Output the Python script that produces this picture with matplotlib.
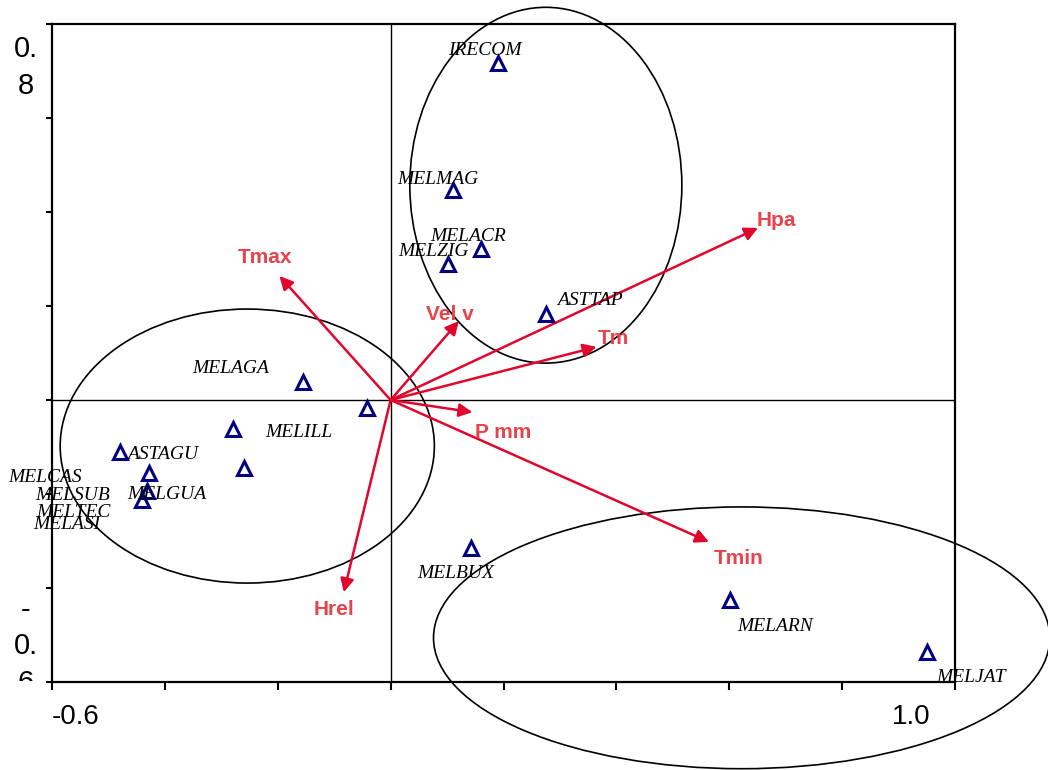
import matplotlib.pyplot as plt
from matplotlib.patches import Ellipse
from matplotlib.transforms import Bbox, TransformedBbox, ScaledTranslation

# sitios (triangulos)
sites = ["IRECOM", "MELMAG", "MELACR", "MELZIG", "ASTTAP", "MELAGA", "MELASI", "MELILL",
         "ASTAGU", "MELCAS", "MELGUA", "MELSUB", "MELTEC", "MELBUX", "MELARN", "MELJAT"]
site_x = [0.191, 0.110, 0.161, 0.101, 0.275, -0.156, -0.041, -0.280,
          -0.480, -0.429, -0.431, -0.440, -0.259, 0.142, 0.601, 0.950]
site_y = [0.717, 0.447, 0.321, 0.289, 0.183, 0.038, -0.017, -0.062,
          -0.111, -0.155, -0.194, -0.213, -0.145, -0.315, -0.426, -0.536]
# donde va cada nombre
lab_x = [0.167, 0.083, 0.137, 0.076, 0.353, -0.284, -0.574, -0.163,
         -0.404, -0.612, -0.397, -0.564, -0.562, 0.115, 0.681, 1.028]
lab_y = [0.743, 0.470, 0.347, 0.317, 0.211, 0.066, -0.264, -0.070,
         -0.115, -0.164, -0.200, -0.204, -0.240, -0.370, -0.481, -0.591]

# variables ambientales (flechas)
env = ["Tmax", "Vel v", "Hpa", "Tm", "P mm", "Tmin", "Hrel"]
env_x = [-0.197, 0.121, 0.651, 0.365, 0.145, 0.564, -0.083]
env_y = [0.264, 0.168, 0.366, 0.113, -0.026, -0.302, -0.409]
env_lx = [-0.222, 0.105, 0.684, 0.395, 0.200, 0.617, -0.101]
env_ly = [0.304, 0.181, 0.381, 0.130, -0.070, -0.338, -0.445]

# grupos
ell_x = [0.275, -0.254, 0.622]
ell_y = [0.457, -0.098, -0.506]
ell_w = [0.482, 0.663, 1.092]
ell_h = [0.757, 0.583, 0.557]

fig = plt.figure(figsize=(10.48, 7.70), dpi=100)
ax = fig.add_axes([52/1048, 88/770, 903/1048, 658/770])
ax.set_xlim(-0.6, 1.0)
ax.set_ylim(-0.6, 0.8)

for s in ax.spines.values():
    s.set_linewidth(1.6)
ax.axhline(0, color="black", lw=1, zorder=1)
ax.axvline(0, color="black", lw=1, zorder=1)

for cx, cy, w, h in zip(ell_x, ell_y, ell_w, ell_h):
    ax.add_patch(Ellipse((cx, cy), w, h, fill=False, ec="black", lw=1.2, clip_on=False, zorder=2))

red = "#e0062c"
for name, x, y, lx, ly in zip(env, env_x, env_y, env_lx, env_ly):
    ax.annotate("", xy=(x, y), xytext=(0, 0),
                arrowprops=dict(arrowstyle="-|>", color=red, lw=1.8, mutation_scale=20,
                                shrinkA=0, shrinkB=0), zorder=3)
    ax.text(lx, ly, name, color="#e8424a", fontsize=15, fontweight="bold",
            family="Liberation Sans", ha="center", va="center", zorder=4)

ax.plot(site_x, site_y, ls="none", marker="^", ms=9.5, mfc="none", mec="#000080", mew=2.2, zorder=5)
for name, lx, ly in zip(sites, lab_x, lab_y):
    ax.text(lx, ly, name, fontsize=14, style="italic", family="Liberation Serif",
            ha="center", va="center", zorder=6, clip_on=False)

# ejes
xt = [-0.6 + 0.2 * i for i in range(9)]
ax.set_xticks(xt)
ax.set_xticklabels(["-0.6"] + [""] * 7 + ["1.0"], fontsize=20, family="Liberation Sans")
ax.tick_params(axis="x", direction="out", length=6, width=1.5, pad=10)
lbls = ax.get_xticklabels()
lbls[0].set_ha("left")
lbls[-1].set_ha("right")
lbls[-1].set_transform(lbls[-1].get_transform() + ScaledTranslation(-0.25, 0, fig.dpi_scale_trans))

yt = [-0.6 + 0.2 * i for i in range(8)]
ax.set_yticks(yt)
ax.set_yticklabels([])
ax.tick_params(axis="y", direction="out", length=4, width=1.5)

ax.annotate("0.\n8", xy=(0, 0.8), xycoords=("axes fraction", "data"),
            xytext=(-19, -8), textcoords="offset points", ha="center", va="top",
            fontsize=21, family="Liberation Sans", linespacing=1.39)
t = ax.annotate("-\n0.\n6", xy=(0, -0.6), xycoords=("axes fraction", "data"),
                xytext=(-19, 62), textcoords="offset points", ha="center", va="top",
                fontsize=21, family="Liberation Sans", linespacing=1.39, annotation_clip=False)
t.set_clip_on(True)
t.set_clip_box(TransformedBbox(Bbox([[0, 89/770], [1, 1]]), fig.transFigure))

fig.savefig("out.png", dpi=100)
